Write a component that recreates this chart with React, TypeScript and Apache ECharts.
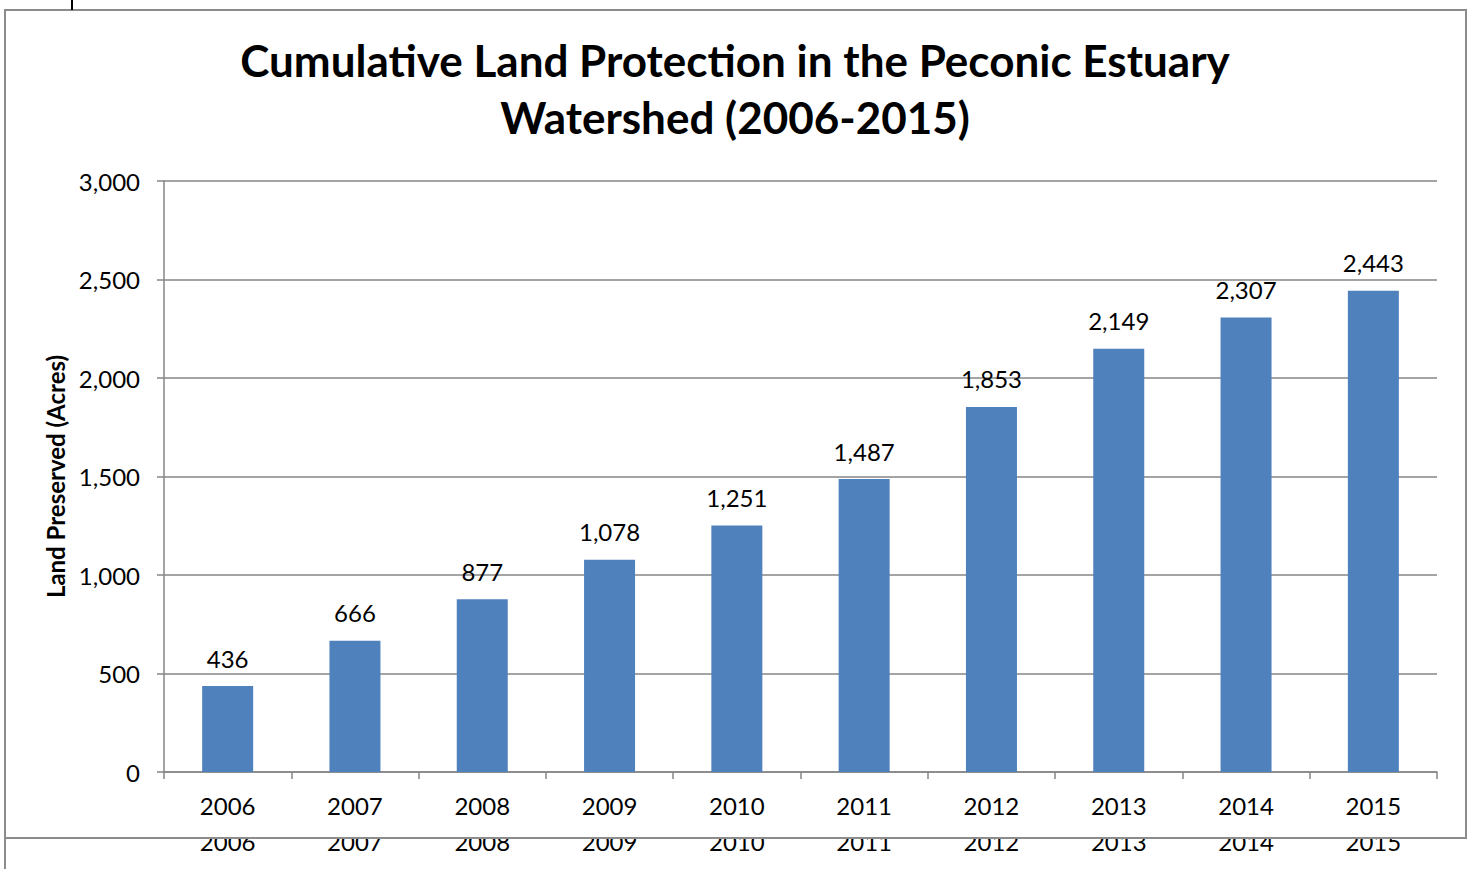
import React, { useEffect, useRef } from "react";
import * as echarts from "echarts";

const years = ["2006", "2007", "2008", "2009", "2010", "2011", "2012", "2013", "2014", "2015"];
const acres = [436, 666, 877, 1078, 1251, 1487, 1853, 2149, 2307, 2443];
const titleText = "Cumulative Land Protection in the Peconic Estuary\nWatershed (2006-2015)";
const yAxisName = "Land Preserved (Acres)";

const FONT = "Lato, 'Open Sans', sans-serif";
const fmt = (v: number) => v.toLocaleString("en-US");

export default function App() {
  const ref = useRef<HTMLDivElement>(null);
  useEffect(() => {
    if (!ref.current) return;
    const chart = echarts.init(ref.current, undefined, { renderer: "svg" });
    chart.setOption({
      animation: false,
      backgroundColor: "#ffffff",
      textStyle: { fontFamily: FONT },
      title: {
        text: titleText,
        left: "center",
        top: 26,
        textStyle: { fontFamily: FONT, fontSize: 44, fontWeight: "bold", color: "#000", lineHeight: 57 },
      },
      grid: { left: 164, right: 33, top: 181, bottom: 97, containLabel: false },
      xAxis: [
        {
          type: "category",
          data: years,
          axisLine: { lineStyle: { color: "#868686", width: 1.5 } },
          axisTick: { show: true, alignWithLabel: false, length: 7, lineStyle: { color: "#868686", width: 1.5 } },
          axisLabel: { fontSize: 24, color: "#000", margin: 21, fontFamily: FONT },
        },
        {
          type: "category",
          data: years,
          position: "bottom",
          offset: 36,
          axisLine: { show: false },
          axisTick: { show: false },
          axisLabel: { fontSize: 24, color: "#000", margin: 21, fontFamily: FONT },
        },
      ],
      yAxis: {
        type: "value",
        min: 0,
        max: 3000,
        interval: 500,
        name: yAxisName,
        nameLocation: "middle",
        nameGap: 96,
        nameTextStyle: { fontSize: 24, fontWeight: "bold", color: "#000", fontFamily: FONT },
        axisLine: { show: true, lineStyle: { color: "#868686", width: 1.5 } },
        axisTick: { show: true, length: 7, lineStyle: { color: "#868686", width: 1.5 } },
        axisLabel: {
          fontSize: 24,
          color: "#000",
          margin: 24,
          padding: [0, 0, 3, 0],
          formatter: (v: number) => fmt(v),
          fontFamily: FONT,
        },
        splitLine: { lineStyle: { color: "#868686", width: 1.5 } },
      },
      series: [
        {
          type: "bar",
          data: acres,
          barWidth: 51,
          itemStyle: { color: "#4F81BD" },
          label: {
            show: true,
            position: "top",
            distance: 16,
            fontSize: 24,
            color: "#000",
            fontFamily: FONT,
            formatter: (p: any) => fmt(p.value),
          },
        },
      ],
      graphic: [
        { type: "rect", z: 100, shape: { x: 0, y: 823, width: 1470, height: 16 }, style: { fill: "#ffffff" } },
        {
          type: "rect",
          z: 101,
          shape: { x: 5, y: 10, width: 1461, height: 828 },
          style: { fill: "none", stroke: "#8c8c8c", lineWidth: 2 },
        },
        { type: "line", z: 101, shape: { x1: 5, y1: 838, x2: 5, y2: 869 }, style: { stroke: "#8c8c8c", lineWidth: 2 } },
        { type: "line", z: 101, shape: { x1: 72, y1: 0, x2: 72, y2: 10 }, style: { stroke: "#000", lineWidth: 2 } },
      ],
    });
    return () => chart.dispose();
  }, []);
  return <div ref={ref} style={{ position: "fixed", left: 0, top: 0, width: 1470, height: 869 }} />;
}
